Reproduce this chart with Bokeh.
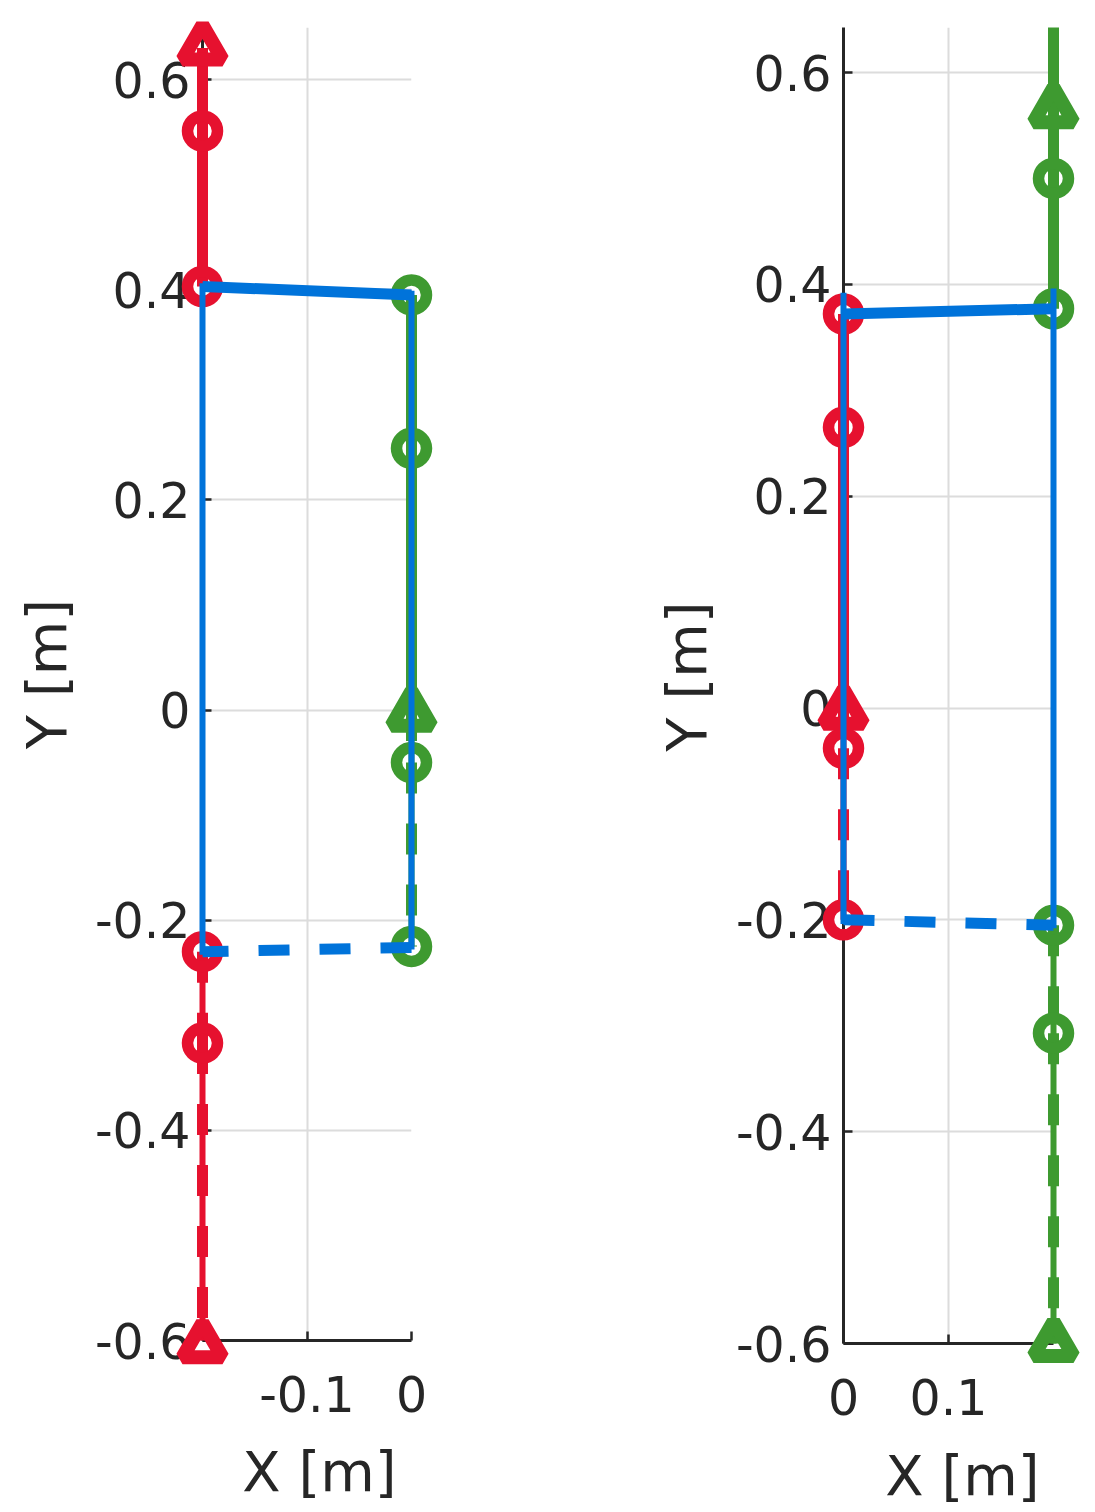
import math
from bokeh.plotting import figure
from bokeh.layouts import row
from bokeh.models import FixedTicker, Range1d
from bokeh.core.properties import value
from bokeh.embed import file_html
from bokeh.resources import INLINE

# ---------------- data ----------------
Y_TICKS = [-0.6, -0.4, -0.2, 0.0, 0.2, 0.4, 0.6]
Y_TICK_LABELS = ["-0.6", "-0.4", "-0.2", "0", "0.2", "0.4", "0.6"]
X_LABEL = "X [m]"
Y_LABEL = "Y [m]"

# left panel
A_X_RANGE = (-0.2, 0.0)
A_Y_RANGE = (-0.6, 0.6495)
A_X_TICKS = [-0.1, 0.0]
A_X_TICK_LABELS = ["-0.1", "0"]

A_RED_X = -0.2
A_RED_CIRCLES_Y = [-0.317, -0.230, 0.403, 0.551]
A_RED_TRIANGLES_Y = [-0.605, 0.630]
A_RED_PAST_Y = [-0.230, -0.317, -0.600]
A_RED_FUTURE_Y = [0.403, 0.551, 0.630]

A_GREEN_X = 0.0
A_GREEN_CIRCLES_Y = [-0.225, -0.050, 0.249, 0.395]
A_GREEN_TRIANGLES_Y = [-0.004]
A_GREEN_PAST_Y = [0.0, -0.050, -0.225]
A_GREEN_FUTURE_Y = [0.0, 0.249, 0.395]

A_BLUE_TOP_X = [-0.2, 0.0]
A_BLUE_TOP_Y = [0.403, 0.395]
A_BLUE_BOTTOM_X = [0.0, -0.2]
A_BLUE_BOTTOM_Y = [-0.226, -0.230]
A_BLUE_LEFT_Y = [-0.233, 0.406]
A_BLUE_RIGHT_Y = [-0.228, 0.399]

# right panel
B_X_RANGE = (0.0, 0.2)
B_Y_RANGE = (-0.6, 0.6425)
B_X_TICKS = [0.0, 0.1]
B_X_TICK_LABELS = ["0", "0.1"]

B_RED_X = 0.0
B_RED_CIRCLES_Y = [-0.200, -0.038, 0.265, 0.372]
B_RED_TRIANGLES_Y = [-0.004]
B_RED_PAST_Y = [0.0, -0.038, -0.200]
B_RED_FUTURE_Y = [0.0, 0.265, 0.372]

B_GREEN_X = 0.2
B_GREEN_CIRCLES_Y = [-0.307, -0.205, 0.377, 0.500]
B_GREEN_TRIANGLES_Y = [-0.601, 0.564]
B_GREEN_PAST_Y = [-0.205, -0.307, -0.600]
B_GREEN_FUTURE_Y = [0.377, 0.500, 0.6425]

B_BLUE_TOP_X = [0.0, 0.2]
B_BLUE_TOP_Y = [0.372, 0.377]
B_BLUE_BOTTOM_X = [0.0, 0.2]
B_BLUE_BOTTOM_Y = [-0.200, -0.205]
B_BLUE_LEFT_Y = [-0.204, 0.392]
B_BLUE_RIGHT_Y = [-0.208, 0.396]

# ---------------- style ----------------
RED = "#E6112F"
GREEN = "#3E9A30"
BLUE = "#0073DA"
INK = "#262626"
GRID = "#DCDCDC"
FONT = "DejaVu Sans"
THICK = 11
THIN = 6
DASH = "31 30"
LVL = "annotation"


def make_fig(xr, yr, xticks, xlabels, fw, fh, top, bottom, left, right,
             xlab_dx, xlab_dy, ylab_dx, ylab_dy):
    p = figure(frame_width=fw, frame_height=fh,
               x_range=Range1d(*xr), y_range=Range1d(*yr),
               output_backend="svg", toolbar_location=None,
               min_border_left=left, min_border_right=right,
               min_border_top=top, min_border_bottom=bottom,
               background_fill_color="white", border_fill_color="white")
    p.outline_line_color = None
    p.xaxis.ticker = FixedTicker(ticks=xticks)
    p.xaxis.major_label_overrides = dict(zip(xticks, xlabels))
    p.yaxis.ticker = FixedTicker(ticks=Y_TICKS)
    p.yaxis.major_label_overrides = dict(zip(Y_TICKS, Y_TICK_LABELS))
    for ax in (p.xaxis, p.yaxis):
        ax.axis_line_color = INK
        ax.axis_line_width = 3
        ax.major_tick_line_color = INK
        ax.major_tick_line_width = 2.5
        ax.major_tick_in = 9
        ax.major_tick_out = 0
        ax.minor_tick_line_color = None
        ax.major_label_text_font = FONT
        ax.major_label_text_font_size = "49px"
        ax.major_label_text_color = INK
    p.xaxis.major_label_standoff = 35
    p.yaxis.major_label_standoff = 12
    p.grid.grid_line_color = GRID
    p.grid.grid_line_width = 2

    # axis titles as text glyphs (pixel offsets converted to data units)
    px_x = (xr[1] - xr[0]) / fw
    px_y = (yr[1] - yr[0]) / fh
    xmid = (xr[0] + xr[1]) / 2
    ymid = (yr[0] + yr[1]) / 2
    p.text(x=[xmid + xlab_dx * px_x], y=[yr[0] - xlab_dy * px_y], text=[X_LABEL],
           text_align="center", text_baseline="middle",
           text_font=value(FONT), text_font_size="56px", text_color=INK, level=LVL)
    p.text(x=[xr[0] - ylab_dx * px_x], y=[ymid + ylab_dy * px_y], text=[Y_LABEL],
           angle=math.pi / 2, text_align="center", text_baseline="middle",
           text_font=value(FONT), text_font_size="56px", text_color=INK, level=LVL)
    return p


def foot(p, x, circles, triangles, past, future, color):
    n = len(past)
    p.line([x] * n, past, line_color=color, line_width=THIN, level=LVL)
    p.segment(x0=[x] * (n - 1), y0=past[:-1], x1=[x] * (n - 1), y1=past[1:],
              line_color=color, line_width=THICK, line_dash=DASH, level=LVL)
    p.line([x] * len(future), future, line_color=color, line_width=THICK, level=LVL)
    p.scatter([x] * len(circles), circles, marker="circle", size=30,
              fill_color=None, line_color=color, line_width=11.5, level=LVL)
    p.scatter([x] * len(triangles), triangles, marker="triangle", size=40,
              fill_color=None, line_color=color, line_width=14, level=LVL)


def support(p, xl, xr_, top_x, top_y, bot_x, bot_y, left_y, right_y):
    p.line([xl, xl], left_y, line_color=BLUE, line_width=THIN, level=LVL)
    p.line([xr_, xr_], right_y, line_color=BLUE, line_width=THIN, level=LVL)
    p.line(top_x, top_y, line_color=BLUE, line_width=THICK, level=LVL)
    p.segment(x0=[bot_x[0]], y0=[bot_y[0]], x1=[bot_x[1]], y1=[bot_y[1]],
              line_color=BLUE, line_width=THICK, line_dash=DASH, level=LVL)


p1 = make_fig(A_X_RANGE, A_Y_RANGE, A_X_TICKS, A_X_TICK_LABELS, 209, 1313,
              top=27, bottom=170, left=202, right=238,
              xlab_dx=12.5, xlab_dy=131, ylab_dx=156, ylab_dy=10)
foot(p1, A_RED_X, A_RED_CIRCLES_Y, A_RED_TRIANGLES_Y, A_RED_PAST_Y, A_RED_FUTURE_Y, RED)
foot(p1, A_GREEN_X, A_GREEN_CIRCLES_Y, A_GREEN_TRIANGLES_Y, A_GREEN_PAST_Y, A_GREEN_FUTURE_Y, GREEN)
support(p1, A_RED_X, A_GREEN_X, A_BLUE_TOP_X, A_BLUE_TOP_Y,
        A_BLUE_BOTTOM_X, A_BLUE_BOTTOM_Y, A_BLUE_LEFT_Y, A_BLUE_RIGHT_Y)

p2 = make_fig(B_X_RANGE, B_Y_RANGE, B_X_TICKS, B_X_TICK_LABELS, 210, 1316,
              top=27, bottom=167, left=194, right=40,
              xlab_dx=14, xlab_dy=132, ylab_dx=157, ylab_dy=9)
foot(p2, B_RED_X, B_RED_CIRCLES_Y, B_RED_TRIANGLES_Y, B_RED_PAST_Y, B_RED_FUTURE_Y, RED)
foot(p2, B_GREEN_X, B_GREEN_CIRCLES_Y, B_GREEN_TRIANGLES_Y, B_GREEN_PAST_Y, B_GREEN_FUTURE_Y, GREEN)
support(p2, B_RED_X, B_GREEN_X, B_BLUE_TOP_X, B_BLUE_TOP_Y,
        B_BLUE_BOTTOM_X, B_BLUE_BOTTOM_Y, B_BLUE_LEFT_Y, B_BLUE_RIGHT_Y)

layout = row(p1, p2)
open("out.html", "w").write(file_html(layout, INLINE))
